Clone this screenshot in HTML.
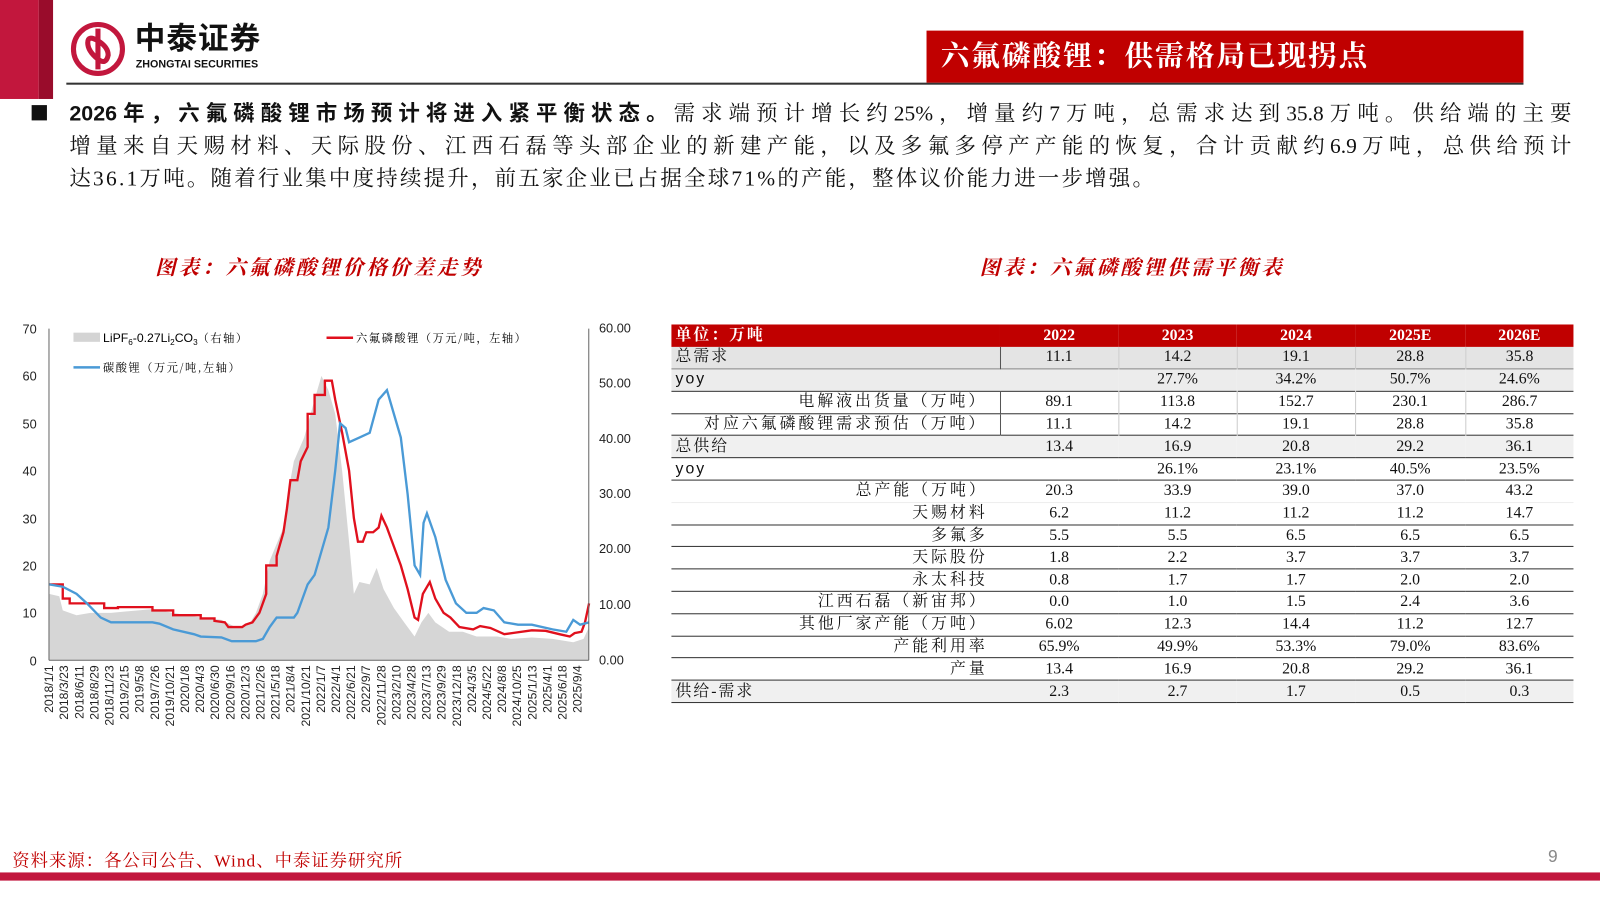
<!DOCTYPE html><html><head><meta charset="utf-8"><style>
body{margin:0;width:1600px;height:900px;position:relative;background:#fff;font-family:"Liberation Sans","Noto Sans CJK SC",sans-serif;overflow:hidden}
#w{position:absolute;left:0;top:0;width:1568px;height:882px;transform:scale(1.0204);transform-origin:0 0}
.abs{position:absolute}
.serif{font-family:"Liberation Serif","Noto Serif CJK SC",serif}
table{border-collapse:collapse;table-layout:fixed;font-family:"Liberation Serif","Noto Serif CJK SC",serif;font-size:15.5px;color:#111}
td{height:21px;padding:0 4px;text-align:center;line-height:18px;box-sizing:border-box;white-space:nowrap}
tr{height:21.8px}
td.l{text-align:left;letter-spacing:2px}td.r{text-align:right;padding-right:12px;letter-spacing:3px}
.ln{text-align:justify;text-align-last:justify;white-space:nowrap;height:32px}
</style></head><body><div id="w">
<div class="abs" style="left:0;top:0;width:38px;height:97px;background:#c2173d"></div>
<div class="abs" style="left:38px;top:0;width:14px;height:97px;background:#990c2b"></div>
<svg class="abs" style="left:68px;top:20px" width="56" height="56" viewBox="0 0 56 56"><circle cx="28" cy="28" r="24" fill="none" stroke="#c2173d" stroke-width="5"/><path d="M28 8 V48 M18 22 q0 -8 10 -2 q10 6 10 14 q-2 10 -10 4 q-10 -8 -10 -16z" fill="none" stroke="#c2173d" stroke-width="5"/></svg>
<div class="abs" style="left:132px;top:24px;font-size:30px;line-height:1;font-weight:bold;color:#111;letter-spacing:1px">中泰证券</div>
<div class="abs" style="left:133px;top:58px;font-size:10.5px;line-height:1;font-weight:bold;color:#111">ZHONGTAI SECURITIES</div>
<div class="abs" style="left:65px;top:81px;width:1428px;height:2px;background:#333"></div>
<div class="abs serif" style="left:908px;top:30px;width:585px;height:51px;background:#c00000;color:#fff;font-size:28px;font-weight:bold;line-height:51px;padding-left:14px;box-sizing:border-box;letter-spacing:2px">六氟磷酸锂：供需格局已现拐点</div>
<div class="abs" style="left:31px;top:103px;width:15px;height:15px;background:#111"></div>
<div class="abs serif" style="left:68px;top:95px;width:1472px;font-size:21px;line-height:32px;color:#111">
<div class="ln"><b style="font-family:'Liberation Sans','Noto Sans CJK SC',sans-serif">2026年，六氟磷酸锂市场预计将进入紧平衡状态。</b>需求端预计增长约25%，增量约7万吨，总需求达到35.8万吨。供给端的主要</div>
<div class="ln">增量来自天赐材料、天际股份、江西石磊等头部企业的新建产能，以及多氟多停产产能的恢复，合计贡献约6.9万吨，总供给预计</div>
<div style="letter-spacing:2.2px">达36.1万吨。随着行业集中度持续提升，前五家企业已占据全球71%的产能，整体议价能力进一步增强。</div>
</div>
<div class="abs serif" style="left:152px;top:246px;font-size:20px;font-weight:bold;font-style:italic;color:#c00000;letter-spacing:3px">图表：六氟磷酸锂价格价差走势</div>
<div class="abs serif" style="left:960px;top:246px;font-size:20px;font-weight:bold;font-style:italic;color:#c00000;letter-spacing:3px">图表：六氟磷酸锂供需平衡表</div>

<svg class="abs" style="left:0;top:300px" width="640" height="430" id="ch">
<g font-size="12.5" fill="#222" font-family="Liberation Sans,sans-serif">
<text x="36" y="27" text-anchor="end">70</text><text x="36" y="73" text-anchor="end">60</text><text x="36" y="120" text-anchor="end">50</text><text x="36" y="166" text-anchor="end">40</text><text x="36" y="213" text-anchor="end">30</text><text x="36" y="259" text-anchor="end">20</text><text x="36" y="305" text-anchor="end">10</text><text x="36" y="352" text-anchor="end">0</text>
<text x="587" y="26">60.00</text><text x="587" y="80">50.00</text><text x="587" y="134">40.00</text><text x="587" y="188">30.00</text><text x="587" y="242">20.00</text><text x="587" y="297">10.00</text><text x="587" y="351">0.00</text>
</g>
<g id="gs"></g>
<line x1="48" y1="22" x2="48" y2="347" stroke="#666"/><line x1="577" y1="22" x2="577" y2="347" stroke="#666"/><line x1="48" y1="347" x2="577" y2="347" stroke="#666"/>
<rect x="72" y="26" width="26" height="9" fill="#d4d4d4"/><text x="101" y="35" font-size="12">LiPF<tspan font-size="8" dy="3">6</tspan><tspan dy="-3">-0.27Li</tspan><tspan font-size="8" dy="3">2</tspan><tspan dy="-3">CO</tspan><tspan font-size="8" dy="3">3</tspan><tspan dy="-3" font-size="11" font-family="Noto Serif CJK SC,serif" letter-spacing="1.5">（右轴）</tspan></text>
<line x1="320" y1="31" x2="346" y2="31" stroke="#e0101d" stroke-width="2.5"/><text x="349" y="35" font-size="11" font-family="Noto Serif CJK SC,serif" letter-spacing="1.5">六氟磷酸锂（万元/吨，左轴）</text>
<line x1="72" y1="60" x2="98" y2="60" stroke="#4a9ad6" stroke-width="2.5"/><text x="101" y="64" font-size="11" font-family="Noto Serif CJK SC,serif" letter-spacing="1.5">碳酸锂（万元/吨,左轴）</text>
<g id="xl" font-size="12" fill="#222" font-family="Liberation Sans,sans-serif"></g>
</svg>

<table class="abs" style="left:658px;top:318px;width:884px">
<colgroup><col style="width:322px"><col style="width:116px"><col style="width:116px"><col style="width:116px"><col style="width:108px"><col style="width:106px"></colgroup>
<tr style="background:#c00000;color:#fff;font-weight:bold"><td class="l">单位：万吨</td><td>2022</td><td>2023</td><td>2024</td><td>2025E</td><td>2026E</td></tr>
<tr style="background:#e4e4e4;border-bottom:1px solid #888"><td class="l" style="border-right:1px solid #555">总需求</td><td style="border-right:1px solid #ccc">11.1</td><td style="border-right:1px solid #ccc">14.2</td><td style="border-right:1px solid #ccc">19.1</td><td style="border-right:1px solid #ccc">28.8</td><td>35.8</td></tr>
<tr style="background:#ececec;border-bottom:1px solid #333"><td class="l" style="font-family:Liberation Sans,sans-serif">yoy</td><td></td><td>27.7%</td><td>34.2%</td><td>50.7%</td><td>24.6%</td></tr>
<tr style="border-bottom:1px solid #333"><td class="r" style="border-right:1px solid #555">电解液出货量（万吨）</td><td style="border-right:1px solid #ccc">89.1</td><td style="border-right:1px solid #ccc">113.8</td><td style="border-right:1px solid #ccc">152.7</td><td style="border-right:1px solid #ccc">230.1</td><td>286.7</td></tr>
<tr style="border-bottom:1px solid #333"><td class="r" style="border-right:1px solid #555">对应六氟磷酸锂需求预估（万吨）</td><td style="border-right:1px solid #ccc">11.1</td><td style="border-right:1px solid #ccc">14.2</td><td style="border-right:1px solid #ccc">19.1</td><td style="border-right:1px solid #ccc">28.8</td><td>35.8</td></tr>
<tr style="background:#f0f0f0;border-bottom:1px solid #333"><td class="l">总供给</td><td>13.4</td><td>16.9</td><td>20.8</td><td>29.2</td><td>36.1</td></tr>
<tr style="border-bottom:1px solid #333"><td class="l" style="font-family:Liberation Sans,sans-serif">yoy</td><td></td><td>26.1%</td><td>23.1%</td><td>40.5%</td><td>23.5%</td></tr>
<tr style="border-bottom:1px solid #eee"><td class="r">总产能（万吨）</td><td>20.3</td><td>33.9</td><td>39.0</td><td>37.0</td><td>43.2</td></tr>
<tr style="border-bottom:1px solid #333"><td class="r">天赐材料</td><td>6.2</td><td>11.2</td><td>11.2</td><td>11.2</td><td>14.7</td></tr>
<tr style="border-bottom:1px solid #333"><td class="r">多氟多</td><td>5.5</td><td>5.5</td><td>6.5</td><td>6.5</td><td>6.5</td></tr>
<tr style="border-bottom:1px solid #333"><td class="r">天际股份</td><td>1.8</td><td>2.2</td><td>3.7</td><td>3.7</td><td>3.7</td></tr>
<tr style="border-bottom:1px solid #333"><td class="r">永太科技</td><td>0.8</td><td>1.7</td><td>1.7</td><td>2.0</td><td>2.0</td></tr>
<tr style="border-bottom:1px solid #333"><td class="r">江西石磊（新宙邦）</td><td>0.0</td><td>1.0</td><td>1.5</td><td>2.4</td><td>3.6</td></tr>
<tr style="border-bottom:1px solid #333"><td class="r">其他厂家产能（万吨）</td><td>6.02</td><td>12.3</td><td>14.4</td><td>11.2</td><td>12.7</td></tr>
<tr style="border-bottom:1px solid #333"><td class="r">产能利用率</td><td>65.9%</td><td>49.9%</td><td>53.3%</td><td>79.0%</td><td>83.6%</td></tr>
<tr style="border-bottom:1px solid #333"><td class="r">产量</td><td>13.4</td><td>16.9</td><td>20.8</td><td>29.2</td><td>36.1</td></tr>
<tr style="background:#f0f0f0;border-bottom:1px solid #333"><td class="l">供给-需求</td><td>2.3</td><td>2.7</td><td>1.7</td><td>0.5</td><td>0.3</td></tr>
</table>

<div class="abs serif" style="left:12px;top:829px;font-size:17px;color:#c00000;letter-spacing:1px">资料来源：各公司公告、Wind、中泰证券研究所</div>
<div class="abs" style="left:1517px;top:830px;font-size:17px;color:#888">9</div>
<div class="abs" style="left:0;top:855px;width:1568px;height:8px;background:#c2173d"></div>
</div>
<script>
var X=t=>48+67.6*(t-2018),Y=v=>347-4.643*v;
function pts(a){var s=[];for(var i=0;i<a.length;i+=2)s.push(X(a[i]).toFixed(1)+','+Y(a[i+1]).toFixed(1));return s.join(' ');}
var grey=[2018,14,2018.15,13.5,2018.2,10.5,2018.3,10,2018.4,9.5,2018.6,10,2018.9,10,2019.5,10.8,2019.8,10,2020.2,9,2020.5,8.5,2020.7,7,2020.9,7.5,2021,10,2021.1,14,2021.2,21,2021.4,28,2021.45,34,2021.55,42,2021.7,47,2021.85,55,2021.95,60,2022.05,57,2022.15,52,2022.25,40,2022.35,25,2022.42,14,2022.5,16.5,2022.65,16,2022.75,19.5,2022.85,15,2023,11,2023.15,8,2023.3,5,2023.4,8,2023.5,10,2023.6,8,2023.8,6,2024,6,2024.2,5,2024.5,5,2024.7,4.5,2025,4.8,2025.3,4.5,2025.6,3.8,2025.75,4.5,2025.83,7];
var red=[2018,16,2018.2,16,2018.2,13,2018.3,13,2018.3,12,2018.8,12,2018.8,11,2019,11,2019,11.2,2019.5,11.2,2019.5,10.5,2019.8,10.5,2019.8,9.5,2020.2,9.5,2020.2,8.8,2020.4,8.8,2020.4,8.3,2020.55,8,2020.6,7,2020.8,7,2020.85,7.5,2020.95,8,2021.05,10,2021.15,14,2021.15,20,2021.3,20,2021.3,22,2021.4,27,2021.45,32,2021.5,38,2021.6,38,2021.65,42,2021.75,45,2021.75,52,2021.85,52,2021.85,56,2022,56,2022,59,2022.1,59,2022.15,55,2022.25,48,2022.35,40,2022.42,30,2022.48,25,2022.55,25,2022.6,27,2022.7,27,2022.78,28,2022.82,30.5,2022.9,28,2023,24,2023.1,20,2023.2,15,2023.3,9,2023.35,8.5,2023.42,14,2023.52,16.5,2023.6,13,2023.72,10,2023.82,9,2023.95,7,2024.15,6.5,2024.25,7.2,2024.4,6.8,2024.6,5.5,2024.75,5.8,2025,6.3,2025.2,6.2,2025.4,5.5,2025.55,5,2025.62,5.7,2025.72,6,2025.77,8,2025.83,12];
var blue=[2018,16,2018.2,15.5,2018.4,14,2018.55,12,2018.75,9,2018.9,8,2019.5,8,2019.6,7.7,2019.8,6.5,2020.1,5.5,2020.2,5,2020.5,4.8,2020.65,4,2021,4,2021.1,4.5,2021.2,7,2021.3,9,2021.55,9,2021.6,10,2021.75,16,2021.85,18,2022.05,28,2022.15,40,2022.22,50,2022.3,49,2022.35,46,2022.5,47,2022.65,48,2022.78,55,2022.9,57,2023,52,2023.1,47,2023.2,35,2023.3,20,2023.38,18,2023.43,29,2023.48,31,2023.6,26,2023.75,17,2023.9,12,2024.05,10,2024.2,10,2024.3,11,2024.45,10.5,2024.6,8,2024.8,7.5,2025.0,7.5,2025.3,6.5,2025.5,6,2025.6,8.5,2025.7,7.5,2025.83,8];
var g=document.getElementById('gs');
g.innerHTML='<polygon fill="#d6d6d6" points="48,347 '+pts(grey)+' '+X(2025.83)+',347"/><polyline fill="none" stroke="#e0101d" stroke-width="2.3" points="'+pts(red)+'"/><polyline fill="none" stroke="#4a9ad6" stroke-width="2.3" points="'+pts(blue)+'"/>';
var L=["2018/1/1","2018/3/23","2018/6/11","2018/8/29","2018/11/23","2019/2/15","2019/5/8","2019/7/26","2019/10/21","2020/1/8","2020/4/3","2020/6/30","2020/9/16","2020/12/3","2021/2/26","2021/5/18","2021/8/4","2021/10/21","2022/1/7","2022/4/1","2022/6/21","2022/9/7","2022/11/28","2023/2/10","2023/4/28","2023/7/13","2023/9/29","2023/12/18","2024/3/5","2024/5/22","2024/8/8","2024/10/25","2025/1/13","2025/4/1","2025/6/18","2025/9/4"];
var h='';for(var i=0;i<L.length;i++){var x=52+i*14.8;h+='<text transform="translate('+x.toFixed(1)+',352) rotate(-90)" text-anchor="end">'+L[i]+'</text>';}
document.getElementById('xl').innerHTML=h;
</script>
</body></html>
